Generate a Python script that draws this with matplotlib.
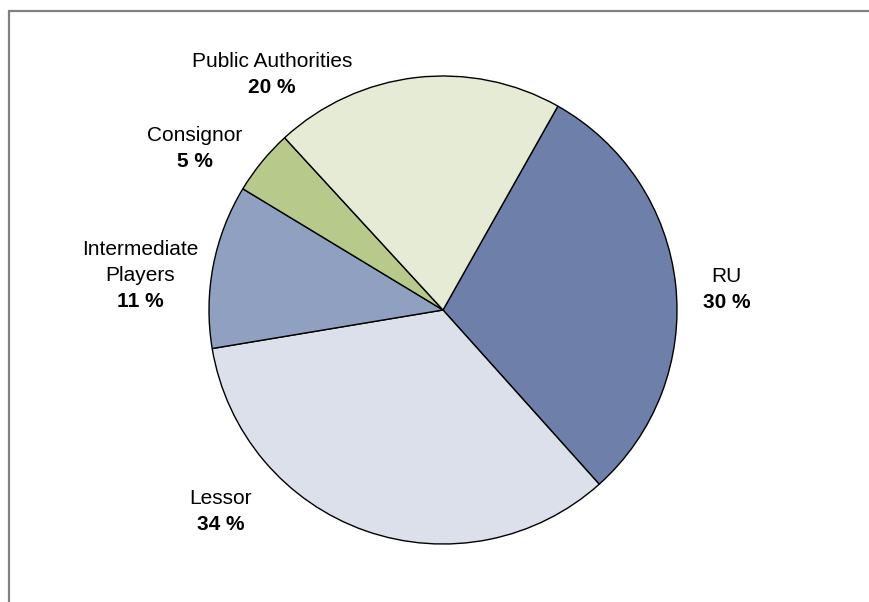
import matplotlib
matplotlib.use("Agg")
import matplotlib.pyplot as plt
from matplotlib.patches import Rectangle

plt.rcParams['font.family'] = ['Liberation Sans', 'DejaVu Sans']

categories = ["RU", "Lessor", "Intermediate\nPlayers", "Consignor", "Public Authorities"]
values = [30.2, 34.0, 11.3, 4.5, 20.0]
pct_labels = ["30 %", "34 %", "11 %", "5 %", "20 %"]
colors = ["#6E7FAA", "#DCE0EB", "#8FA0C0", "#B8C98C", "#E6EBD6"]
# label anchor positions relative to pie (radius = 1)
label_pos = [(1.212, 0.087), (-0.949, -0.862), (-1.295, 0.147), (-1.06, 0.690), (-0.731, 1.006)]

W, H = 869, 602
cx, cy, R = 443, 310, 234
fig = plt.figure(figsize=(W / 100, H / 100), dpi=100)
ax = fig.add_axes([0, 0, 1, 1])

ax.pie(values, colors=colors, startangle=60.6, counterclock=False, radius=1.0,
       center=(0, 0), frame=True,
       wedgeprops=dict(edgecolor='black', linewidth=1.0))
ax.set_xlim(-cx / R, (W - cx) / R)
ax.set_ylim(-(H - cy) / R, cy / R)
ax.set_aspect('equal')
ax.axis('off')

line_pt = 18.7
fs = 15
for name, pct, (x, y) in zip(categories, pct_labels, label_pos):
    lines = name.split("\n")
    n = len(lines) + 1
    mid = (n - 1) / 2
    for i, ln in enumerate(lines):
        ax.annotate(ln, (x, y), xytext=(0, (mid - i) * line_pt), textcoords='offset points',
                    ha='center', va='center', fontsize=fs)
    ax.annotate(pct, (x, y), xytext=(0, (mid - (n - 1)) * line_pt), textcoords='offset points',
                ha='center', va='center', fontsize=fs, fontweight='bold')

fig.add_artist(Rectangle((8.5 / W, -0.1), 1.2, 1.1 - 10.5 / H, transform=fig.transFigure,
                         fill=False, edgecolor='#808080', linewidth=1.6))

fig.savefig("out.png", dpi=100)
